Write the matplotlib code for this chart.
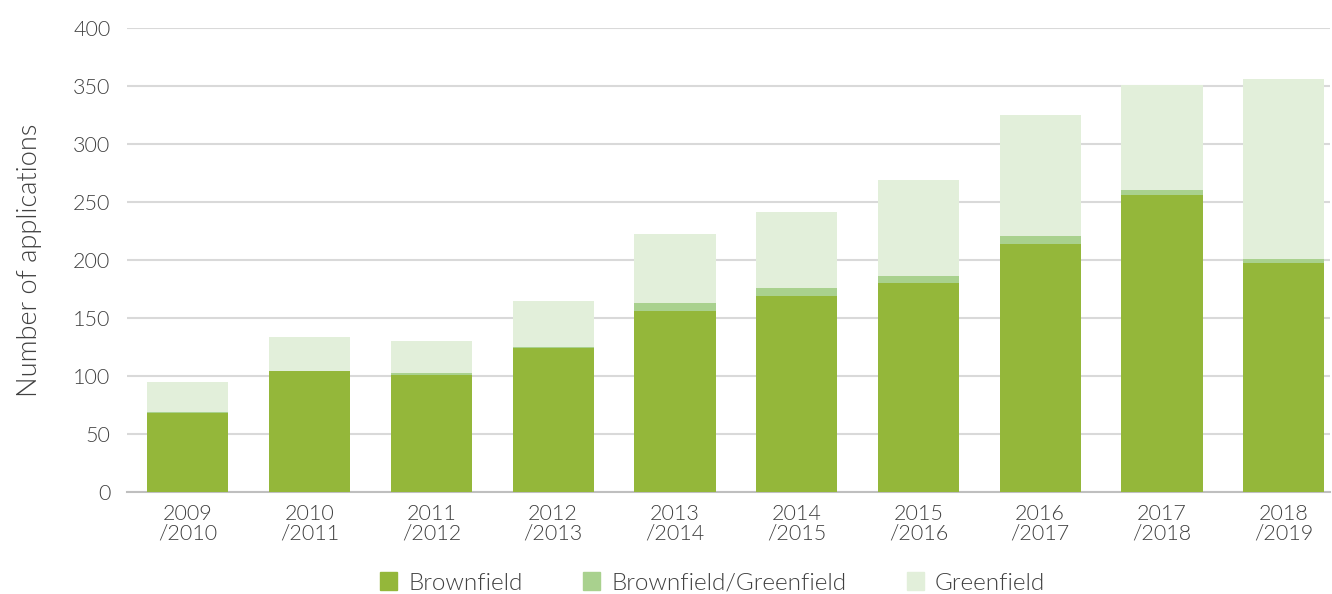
import matplotlib
matplotlib.use("Agg")
import matplotlib.pyplot as plt
import numpy as np
from matplotlib.patches import Patch

categories = ["2009\n/2010", "2010\n/2011", "2011\n/2012", "2012\n/2013", "2013\n/2014",
              "2014\n/2015", "2015\n/2016", "2016\n/2017", "2017\n/2018", "2018\n/2019"]
brownfield = [68, 104, 101, 124, 156, 169, 180, 214, 256, 197]
brown_green = [1, 0, 2, 1, 7, 7, 6, 7, 4, 4]
greenfield = [26, 30, 27, 40, 59, 65, 83, 104, 91, 155]

c_brown = "#94B73A"
c_bg = "#A9D18E"
c_green = "#E2EFDA"
txt = "#404040"
FW = 300

plt.rcParams['font.family'] = ['Lato', 'DejaVu Sans']

fig = plt.figure(figsize=(13.32, 5.94), dpi=100)
ax = fig.add_axes([127/1332, 1-492/594, (1330-127)/1332, (492-28)/594])

x = np.arange(len(categories))
w = 0.667
b1 = np.array(brownfield)
b2 = b1 + np.array(brown_green)
ax.bar(x, brownfield, w, color=c_brown, zorder=3)
ax.bar(x, brown_green, w, bottom=b1, color=c_bg, zorder=3)
ax.bar(x, greenfield, w, bottom=b2, color=c_green, zorder=3)

ax.set_ylim(0, 400)
ax.set_xlim(-0.5, 9.38)
ax.set_yticks(range(0, 401, 50))
ax.yaxis.grid(True, color="#D9D9D9", linewidth=1.5, zorder=0)
ax.set_axisbelow(True)
for s in ["top", "right", "left"]:
    ax.spines[s].set_visible(False)
ax.spines["bottom"].set_color("#BFBFBF")
ax.spines["bottom"].set_linewidth(1.5)
ax.tick_params(axis="both", length=0, labelsize=15.5, labelcolor=txt)
ax.tick_params(axis="y", pad=12)
ax.tick_params(axis="x", pad=9)
ax.set_xticks(x)
ax.set_xticklabels(categories, linespacing=0.95)
for t in ax.get_xticklabels() + ax.get_yticklabels():
    t.set_fontweight(FW)
ax.set_ylabel("Number of applications", fontsize=19.5, color=txt, fontweight=FW, labelpad=22)

handles = [Patch(color=c_brown, label="Brownfield"),
           Patch(color=c_bg, label="Brownfield/Greenfield"),
           Patch(color=c_green, label="Greenfield")]
leg = fig.legend(handles=handles, loc="center", bbox_to_anchor=(0.535, 1-583/594), ncol=3,
                 frameon=False, fontsize=17.5, handlelength=0.7, handleheight=0.7,
                 columnspacing=2.5, handletextpad=0.45)
for t in leg.get_texts():
    t.set_color(txt)
    t.set_fontweight(FW)

fig.savefig("out.png", dpi=100)
